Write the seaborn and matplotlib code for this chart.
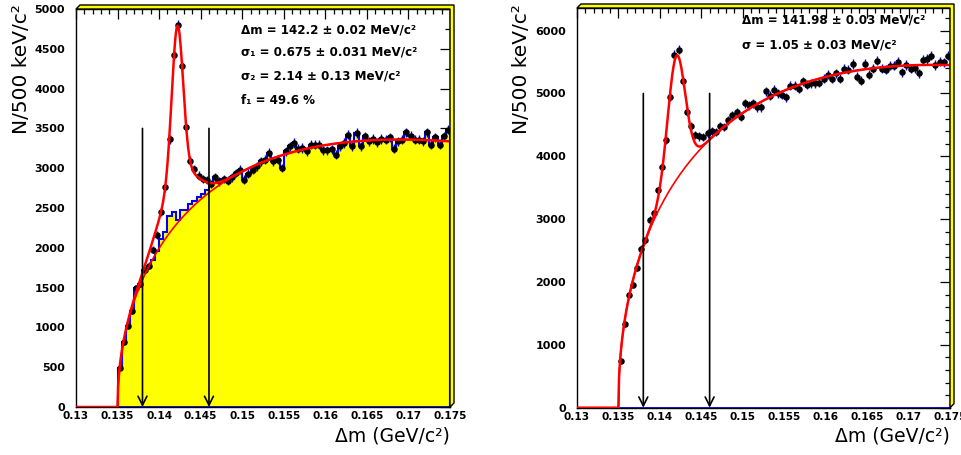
import numpy as np
import matplotlib
matplotlib.use("Agg")
import matplotlib.pyplot as plt
import seaborn as sns
from matplotlib.patches import Polygon
from matplotlib.ticker import MultipleLocator, FuncFormatter

# ---------------- data ----------------
bin_width = 0.0005
first_edge = 0.135
x_min, x_max = 0.13, 0.175

left_counts = [491, 811, 1016, 1205, 1491, 1545, 1722, 1776, 1973, 2159,
               2452, 2758, 3363, 4421, 4795, 4278, 3514, 3094, 2990, 2906,
               2864, 2851, 2801, 2884, 2834, 2864, 2843, 2884, 2939, 2981,
               2855, 2931, 2981, 3023, 3086, 3107, 3191, 3086, 3107, 3003,
               3212, 3275, 3317, 3242, 3254, 3212, 3296, 3296, 3296, 3225,
               3225, 3240, 3170, 3275, 3317, 3422, 3275, 3443, 3275, 3401,
               3338, 3368, 3325, 3368, 3359, 3388, 3242, 3338, 3359, 3451,
               3409, 3359, 3359, 3338, 3451, 3296, 3388, 3296, 3401, 3485]

left_hist = [491, 811, 1016, 1205, 1491, 1545, 1722, 1776, 1850, 1960,
             2110, 2200, 2400, 2450, 2350, 2480, 2470, 2550, 2590, 2640,
             2680, 2720, 2801, 2884, 2834, 2864, 2843, 2884, 2939, 2981,
             2855, 2931, 2981, 3023, 3086, 3107, 3191, 3086, 3107, 3003,
             3212, 3275, 3317, 3242, 3254, 3212, 3296, 3296, 3296, 3225,
             3225, 3240, 3170, 3275, 3317, 3422, 3275, 3443, 3275, 3401,
             3338, 3368, 3325, 3368, 3359, 3388, 3242, 3338, 3359, 3451,
             3409, 3359, 3359, 3338, 3451, 3296, 3388, 3296, 3401, 3485]

right_counts = [742, 1325, 1801, 1949, 2230, 2532, 2664, 2993, 3098, 3458,
                3828, 4264, 4951, 5614, 5698, 5206, 4713, 4475, 4343, 4316,
                4305, 4364, 4396, 4384, 4475, 4464, 4571, 4650, 4703, 4623,
                4845, 4809, 4845, 4782, 4782, 5036, 4967, 5058, 5004, 4978,
                4940, 5126, 5126, 5074, 5195, 5142, 5163, 5163, 5170, 5233,
                5300, 5233, 5322, 5233, 5392, 5376, 5471, 5269, 5206, 5471,
                5296, 5392, 5523, 5392, 5376, 5445, 5445, 5507, 5338, 5455,
                5392, 5402, 5322, 5535, 5551, 5603, 5455, 5507, 5497, 5603]

# fit parameters (read from the annotations / curve shape)
left_fit = dict(mean=0.1422, s1=0.000675, s2=0.00214, f1=0.496, nsig=12800,
                bmax=3360, power=0.49, xpeak=0.169)
right_fit = dict(mean=0.14198, s1=0.00105, s2=0.00105, f1=1.0, nsig=10370,
                 bmax=5455, power=0.465, xpeak=0.173)

left_texts = ["Δm = 142.2 ± 0.02 MeV/c²", "σ₁ = 0.675 ± 0.031 MeV/c²",
              "σ₂ = 2.14 ± 0.13 MeV/c²", "f₁ = 49.6 %"]
right_texts = ["Δm = 141.98 ± 0.03 MeV/c²", "σ = 1.05 ± 0.03 MeV/c²"]

arrow_x = [0.138, 0.146]
left_arrow_top = 3500
right_arrow_top = 5000

x_label = "Δm (GeV/c²)"
y_label = "N/500 keV/c²"

# ---------------- helpers ----------------
def background(x, p):
    dx = np.clip(x - first_edge, 0, None)
    dxm = p["xpeak"] - first_edge
    r = dx / dxm
    return p["bmax"] * np.power(r, p["power"]) * np.exp(p["power"] * (1 - r))

def signal(x, p):
    g1 = np.exp(-0.5 * ((x - p["mean"]) / p["s1"]) ** 2) / (np.sqrt(2 * np.pi) * p["s1"])
    g2 = np.exp(-0.5 * ((x - p["mean"]) / p["s2"]) ** 2) / (np.sqrt(2 * np.pi) * p["s2"])
    return p["nsig"] * bin_width * (p["f1"] * g1 + (1 - p["f1"]) * g2)

sns.set_theme(style="white")
plt.rcParams["font.family"] = ["DejaVu Sans"]
plt.rcParams["text.color"] = "black"
plt.rcParams["axes.labelcolor"] = "black"
plt.rcParams["xtick.color"] = "black"
plt.rcParams["ytick.color"] = "black"

W, H = 962, 455
fig = plt.figure(figsize=(W / 100, H / 100), dpi=100)

def px_axes(L, T, R, B):
    return fig.add_axes([L / W, 1 - B / H, (R - L) / W, (B - T) / H])

def frame3d(L, T, R, B, d=4):
    pts = [(L, T), (L + d, T - d), (R + d, T - d), (R + d, B - d), (R, B), (R, T)]
    pts = [(x / W, 1 - y / H) for x, y in pts]
    fig.patches.append(Polygon(pts, closed=True, transform=fig.transFigure,
                               facecolor="#ffff00", edgecolor="black", lw=1.0, zorder=0))

def style_axes(ax, ymax, ymajor, yminor):
    ax.set_xlim(x_min, x_max)
    ax.set_ylim(0, ymax)
    ax.xaxis.set_major_locator(MultipleLocator(0.005))
    ax.xaxis.set_minor_locator(MultipleLocator(0.001))
    ax.yaxis.set_major_locator(MultipleLocator(ymajor))
    ax.yaxis.set_minor_locator(MultipleLocator(yminor))
    ax.xaxis.set_major_formatter(FuncFormatter(lambda v, _: ("%.3f" % v).rstrip("0")))
    ax.yaxis.set_major_formatter(FuncFormatter(lambda v, _: "%d" % round(v)))
    ax.tick_params(which="both", direction="in", top=True, right=True,
                   color="black", labelcolor="black", width=0.9)
    ax.tick_params(which="major", length=7)
    ax.tick_params(which="minor", length=3.5)
    ax.tick_params(axis="y", which="major", pad=8, labelsize=8)
    ax.tick_params(axis="x", which="major", pad=3, labelsize=7.6)
    for lab in ax.get_xticklabels() + ax.get_yticklabels():
        lab.set_fontweight("bold")
        lab.set_color("black")
    for s in ax.spines.values():
        s.set_color("black")
        s.set_linewidth(1.0)
    ax.set_xlabel("")
    ax.set_ylabel("")
    ax.text(1.0, -0.072, x_label, transform=ax.transAxes, ha="right", va="center",
            fontsize=13.5, color="black")

edges = first_edge + bin_width * np.arange(len(left_counts) + 1)
centers = edges[:-1] + bin_width / 2
xs_fit = np.linspace(first_edge, x_max, 600)

# ---------------- left panel ----------------
L1 = (76, 9, 450, 407)
frame3d(*L1)
ax1 = px_axes(*L1)
ax1.set_facecolor("white")
ax1.stairs(left_hist, edges, fill=True, facecolor="#ffff00", edgecolor="none", zorder=1)
ax1.stairs(left_hist, edges, fill=False, color="#0000ff", lw=1.5, zorder=2)
ax1.plot([first_edge, x_max], [0, 0], color="#0000ff", lw=2, zorder=2)
ax1.errorbar(centers, left_counts, yerr=np.sqrt(left_counts), fmt="none",
             ecolor="#0000ff", elinewidth=1.0, zorder=3)
sns.scatterplot(x=centers, y=left_counts, ax=ax1, color="black", s=22,
                edgecolor="black", linewidth=0, zorder=4)
sns.lineplot(x=xs_fit, y=background(xs_fit, left_fit), ax=ax1, color="#ff0000",
             lw=1.2, zorder=5, sort=False, estimator=None)
tot = background(xs_fit, left_fit) + signal(xs_fit, left_fit)
sns.lineplot(x=np.concatenate([[x_min], [first_edge], xs_fit[1:]]),
             y=np.concatenate([[0], [0], tot[1:]]), ax=ax1, color="#ff0000",
             lw=1.8, zorder=6, sort=False, estimator=None)
for xa in arrow_x:
    ax1.annotate("", xy=(xa, 0), xytext=(xa, left_arrow_top),
                 arrowprops=dict(arrowstyle="->", color="black", lw=1.2,
                                 mutation_scale=16, shrinkA=0, shrinkB=0), zorder=7)
style_axes(ax1, 5000, 500, 250)
for t, yy in zip(left_texts, [30, 52, 76, 100]):
    fig.text(241 / W, 1 - yy / H, t, ha="left", va="center", fontsize=8.6,
             fontweight="bold", color="black")
fig.text(22 / W, 1 - 4 / H, y_label, rotation=90, ha="center", va="top",
         fontsize=14.5, color="black")

# ---------------- right panel ----------------
L2 = (577, 8, 950, 407.7)
frame3d(*L2)
ax2 = px_axes(*L2)
ax2.set_facecolor("white")
ax2.plot([first_edge, x_max], [0, 0], color="#0000ff", lw=2, zorder=2)
ax2.errorbar(centers, right_counts, yerr=np.sqrt(right_counts), fmt="none",
             ecolor="#0000ff", elinewidth=1.0, zorder=3)
sns.scatterplot(x=centers, y=right_counts, ax=ax2, color="black", s=22,
                edgecolor="black", linewidth=0, zorder=4)
sns.lineplot(x=xs_fit, y=background(xs_fit, right_fit), ax=ax2, color="#ff0000",
             lw=1.2, zorder=5, sort=False, estimator=None)
tot2 = background(xs_fit, right_fit) + signal(xs_fit, right_fit)
sns.lineplot(x=np.concatenate([[x_min], [first_edge], xs_fit[1:]]),
             y=np.concatenate([[0], [0], tot2[1:]]), ax=ax2, color="#ff0000",
             lw=1.8, zorder=6, sort=False, estimator=None)
for xa in arrow_x:
    ax2.annotate("", xy=(xa, 0), xytext=(xa, right_arrow_top),
                 arrowprops=dict(arrowstyle="->", color="black", lw=1.2,
                                 mutation_scale=16, shrinkA=0, shrinkB=0), zorder=7)
style_axes(ax2, 6360, 1000, 200)
for t, yy in zip(right_texts, [20, 45]):
    fig.text(742 / W, 1 - yy / H, t, ha="left", va="center", fontsize=8.6,
             fontweight="bold", color="black")
fig.text(522 / W, 1 - 4 / H, y_label, rotation=90, ha="center", va="top",
         fontsize=14.5, color="black")

fig.savefig("out.png", dpi=100, facecolor="white")
